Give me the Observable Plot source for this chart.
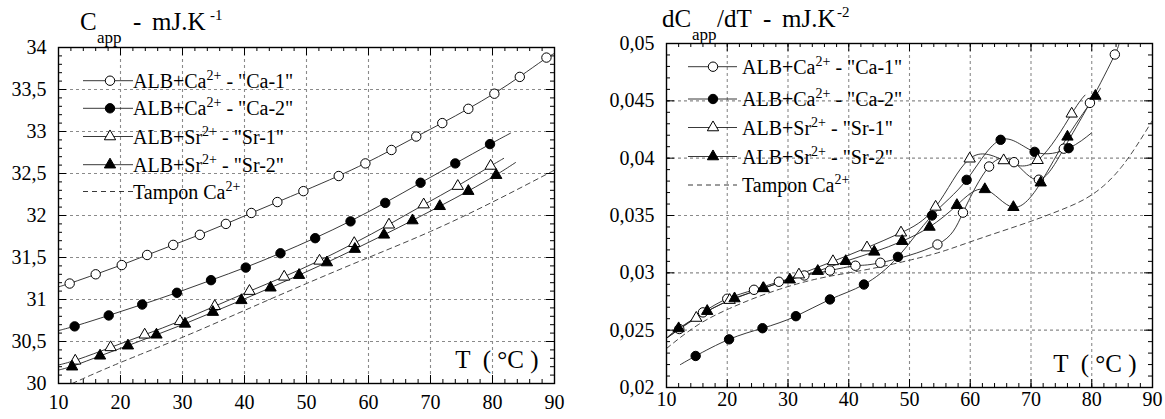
<!DOCTYPE html>
<html><head><meta charset="utf-8">
<script src="https://cdn.jsdelivr.net/npm/d3@7"></script>
<script src="https://cdn.jsdelivr.net/npm/@observablehq/plot@0.6"></script>
<style>
body{margin:0;background:#fff;}
#wrap{position:relative;width:1165px;height:419px;overflow:hidden;}
#wrap svg{position:absolute;top:0;overflow:visible;}
#wrap svg text, #wrap svg g{font-family:"Liberation Serif","Times New Roman",serif !important;}
</style></head><body><div id="wrap"></div>
<script>
const FONT = "Liberation Serif, Times New Roman, serif";

// ---------- axes ----------
const xTicks = [10, 20, 30, 40, 50, 60, 70, 80, 90];
const xLabels = ["10", "20", "30", "40", "50", "60", "70", "80", "90"];
const L_yTicks = [30, 30.5, 31, 31.5, 32, 32.5, 33, 33.5, 34];
const L_yLabels = ["30", "30,5", "31", "31,5", "32", "32,5", "33", "33,5", "34"];
const R_yTicks = [0.02, 0.025, 0.03, 0.035, 0.04, 0.045, 0.05];
const R_yLabels = ["0,02", "0,025", "0,03", "0,035", "0,04", "0,045", "0,05"];

// ---------- left panel: C_app (mJ/K) ----------
const L_ca1_x = [11.8, 16.0, 20.2, 24.3, 28.5, 32.8, 37.0, 41.1, 45.3, 49.5, 55.2, 59.5, 63.7, 67.7, 71.9, 76.1, 80.3, 84.4, 88.7];
const L_ca1_y = [31.19, 31.30, 31.41, 31.53, 31.65, 31.77, 31.90, 32.03, 32.16, 32.29, 32.47, 32.62, 32.78, 32.94, 33.10, 33.27, 33.45, 33.65, 33.88];
const L_ca1_ends = [[10, 31.15], [90, 33.93]];
const L_ca2_x = [12.6, 18.1, 23.5, 29.1, 34.6, 40.2, 45.8, 51.4, 57.1, 62.7, 68.4, 74.0, 79.6];
const L_ca2_y = [30.68, 30.81, 30.94, 31.08, 31.23, 31.38, 31.55, 31.73, 31.93, 32.15, 32.39, 32.62, 32.85];
const L_ca2_ends = [[10, 30.63], [82.9, 32.98]];
const L_sr1_x = [12.7, 18.4, 23.9, 29.6, 35.2, 40.8, 46.4, 52.1, 57.7, 63.3, 68.9, 74.4, 79.7];
const L_sr1_y = [30.27, 30.43, 30.58, 30.74, 30.92, 31.10, 31.27, 31.46, 31.67, 31.89, 32.13, 32.35, 32.59];
const L_sr1_ends = [[10, 30.22], [81.8, 32.68]];
const L_sr2_x = [12.2, 16.7, 21.2, 25.8, 30.4, 34.9, 39.5, 44.2, 48.8, 53.3, 57.8, 62.5, 67.1, 71.5, 76.1, 80.6];
const L_sr2_y = [30.20, 30.33, 30.45, 30.58, 30.71, 30.85, 30.99, 31.14, 31.29, 31.44, 31.60, 31.77, 31.94, 32.11, 32.29, 32.48];
const L_sr2_ends = [[10, 30.16], [83.7, 32.63]];
const L_tampon_x = [12.2, 20, 30, 40, 50, 60, 70, 80, 90];
const L_tampon_y = [30.0, 30.25, 30.55, 30.87, 31.19, 31.50, 31.81, 32.16, 32.54];

// ---------- right panel: dC_app/dT (mJ/K^2) ----------
const R_ca1_x = [12.1, 16.0, 20.0, 24.4, 28.5, 32.7, 36.9, 41.1, 45.2, 54.6, 58.8, 63.1, 67.2, 71.3, 75.4, 79.7, 83.8];
const R_ca1_y = [0.0251, 0.02655, 0.02774, 0.02852, 0.02922, 0.02977, 0.0302, 0.03062, 0.03088, 0.03247, 0.03525, 0.03927, 0.03965, 0.03812, 0.04083, 0.04482, 0.04904];
const R_ca1_ends = [[10, 0.0243], [84.4, 0.0500]];
const R_ca2_x = [14.8, 20.3, 25.8, 31.3, 36.9, 42.5, 48.1, 53.7, 59.4, 65.0, 70.6, 76.2];
const R_ca2_y = [0.02275, 0.0242, 0.02517, 0.02622, 0.02768, 0.02898, 0.03139, 0.0350, 0.03811, 0.0416, 0.04055, 0.04087];
const R_ca2_ends = [[12.3, 0.0220], [80.0, 0.04222]];
const R_sr1_x = [14.9, 20.4, 26.0, 31.8, 37.4, 43.0, 48.6, 54.3, 59.9, 65.5, 71.1, 76.7];
const R_sr1_y = [0.02606, 0.02762, 0.02865, 0.02984, 0.0310, 0.0322, 0.0335, 0.03575, 0.03995, 0.0398, 0.03982, 0.04387];
const R_sr1_ends = [[10, 0.0243], [78.9, 0.0455]];
const R_sr2_x = [12.0, 16.7, 21.2, 25.9, 30.3, 34.9, 39.5, 44.2, 48.8, 53.3, 57.8, 62.4, 67.1, 71.6, 76.0, 80.6];
const R_sr2_y = [0.02515, 0.02666, 0.02776, 0.02865, 0.0294, 0.03015, 0.03101, 0.03183, 0.03276, 0.0340, 0.0359, 0.03728, 0.03572, 0.03786, 0.04186, 0.04542];
const R_sr2_ends = [[10, 0.0243], [81.4, 0.0461]];
const R_tampon_x = [10, 15, 20, 25, 30, 35, 40, 45, 50, 55, 60, 65, 70, 75, 80, 85, 90];
const R_tampon_y = [0.0234, 0.0254, 0.0268, 0.0279, 0.0288, 0.0295, 0.0300, 0.0305, 0.0311, 0.0318, 0.0327, 0.0336, 0.0345, 0.0355, 0.0368, 0.0393, 0.0433];

// ---------- legend / titles ----------
const legendParts = [
  ["ALB+Ca", "2+", ' - "Ca-1"'],
  ["ALB+Ca", "2+", ' - "Ca-2"'],
  ["ALB+Sr", "2+", ' - "Sr-1"'],
  ["ALB+Sr", "2+", ' - "Sr-2"'],
  ["Tampon Ca", "2+", ""]
];
const legendStyles = [
  {symbol: "circle", fill: "white"},
  {symbol: "circle", fill: "black"},
  {symbol: "triangle", fill: "white"},
  {symbol: "triangle", fill: "black"},
  {symbol: null}
];
const xAxisTitle = "T  ( °C )";

const pts = (xs, ys) => xs.map((x, i) => ({x, y: ys[i]}));
const withEnds = (xs, ys, ends) => [{x: ends[0][0], y: ends[0][1]}, ...pts(xs, ys), {x: ends[1][0], y: ends[1][1]}];
const R_CIRCLE = 4.7, R_TRI = 4.2;

function panel(cfg) {
  const H = 419;
  const ph = H - cfg.mt - cfg.mb, pw = cfg.width - cfg.ml - cfg.mr;
  const minorX = d3.range(10, 90.001, 2);
  const fmtX = d => xLabels[xTicks.indexOf(d)];
  const fmtY = d => cfg.yLabels[cfg.yTicks.indexOf(d)];
  const grid = {stroke: "#8a8a8a", strokeWidth: 1.1, strokeDasharray: "3,3"};
  const lineStyle = {x: "x", y: "y", stroke: "#222", strokeWidth: 0.9, curve: cfg.curve, clip: true};
  const marks = [
    Plot.ruleX(xTicks.slice(1, -1), grid),
    Plot.ruleY(cfg.yTicks.slice(1, -1), grid),
    Plot.tickX(minorX, {x: d => d, insetTop: ph - 4, stroke: "black"}),
    Plot.tickX(minorX, {x: d => d, insetBottom: ph - 4, stroke: "black"}),
    Plot.tickX(xTicks, {x: d => d, insetTop: ph - 8, stroke: "black"}),
    Plot.tickX(xTicks, {x: d => d, insetBottom: ph - 8, stroke: "black"}),
    Plot.tickY(cfg.minorY, {y: d => d, insetRight: pw - 4, stroke: "black"}),
    Plot.tickY(cfg.minorY, {y: d => d, insetLeft: pw - 4, stroke: "black"}),
    Plot.tickY(cfg.yTicks, {y: d => d, insetRight: pw - 8, stroke: "black"}),
    Plot.tickY(cfg.yTicks, {y: d => d, insetLeft: pw - 8, stroke: "black"}),
    Plot.line(cfg.tampon, {x: "x", y: "y", stroke: "#333", strokeWidth: 0.9, strokeDasharray: "5,4", curve: "natural", clip: true})
  ];
  cfg.series.forEach(s => marks.push(Plot.line(s.line, lineStyle)));
  cfg.series.forEach(s => marks.push(Plot.dot(s.dots, {x: "x", y: "y", symbol: s.symbol, r: s.symbol === "circle" ? R_CIRCLE : R_TRI, fill: s.fill, stroke: "black", strokeWidth: 1})));
  marks.push(
    Plot.frame({stroke: "black", strokeWidth: 1.4}),
    Plot.axisX(xTicks, {tickSize: 0, tickPadding: cfg.xPad, tickFormat: fmtX, fontSize: 20, fontFamily: FONT, label: null, fill: "black"}),
    Plot.axisY(cfg.yTicks, {tickSize: 0, tickPadding: 12, tickFormat: fmtY, fontSize: 20, fontFamily: FONT, label: null, fill: "black"}),
    Plot.text([xAxisTitle], {frameAnchor: "bottom-right", text: d => d, textAnchor: "end", lineAnchor: "bottom", dx: -16, dy: -16, fontSize: 25, fontFamily: FONT, fill: "black"})
  );
  const svg = Plot.plot({
    width: cfg.width, height: H,
    marginLeft: cfg.ml, marginRight: cfg.mr, marginTop: cfg.mt, marginBottom: cfg.mb,
    x: {domain: [10, 90]},
    y: {domain: cfg.yDomain},
    style: {fontFamily: FONT, fontSize: "20px", background: "white", color: "black", overflow: "visible"},
    marks
  });
  svg.style.left = cfg.left + "px";
  const sel = d3.select(svg);
  // title
  const tg = sel.append("g").attr("text-anchor", "start").attr("fill", "black");
  cfg.title.forEach(p => tg.append("text").attr("x", p.x).attr("y", p.y).attr("font-size", p.s).text(p.t));
  // legend
  const lg = sel.append("g").attr("text-anchor", "start").attr("font-size", 20).attr("fill", "black");
  const L = cfg.legend;
  legendParts.forEach((parts, i) => {
    const y = L.ys[i];
    const st = legendStyles[i];
    lg.append("line").attr("x1", L.x1).attr("x2", L.x2).attr("y1", y).attr("y2", y)
      .attr("stroke", "#222").attr("stroke-width", 0.9)
      .attr("stroke-dasharray", st.symbol ? null : "5,4");
    if (st.symbol) {
      const r = st.symbol === "circle" ? R_CIRCLE : R_TRI;
      const sym = st.symbol === "circle" ? d3.symbolCircle : d3.symbolTriangle;
      lg.append("path").attr("d", d3.symbol(sym, Math.PI * r * r)())
        .attr("transform", `translate(${L.xm},${y})`)
        .attr("fill", st.fill).attr("stroke", "black").attr("stroke-width", 1);
    }
    const t = lg.append("text").attr("x", L.xt).attr("y", y + 7);
    t.append("tspan").text(parts[0]);
    t.append("tspan").attr("dy", -8).attr("font-size", 14).text(parts[1]);
    if (parts[2]) t.append("tspan").attr("dy", 8).text(parts[2]);
  });
  return svg;
}

const wrap = document.getElementById("wrap");
wrap.appendChild(panel({
  left: 0, width: 582, ml: 58, mr: 28, mt: 47, mb: 36, xPad: 11,
  yTicks: L_yTicks, yLabels: L_yLabels, yDomain: [30, 34],
  minorY: d3.range(30, 34.0001, 0.1),
  curve: "basis",
  tampon: pts(L_tampon_x, L_tampon_y),
  series: [
    {line: withEnds(L_ca1_x, L_ca1_y, L_ca1_ends), dots: pts(L_ca1_x, L_ca1_y), symbol: "circle", fill: "white"},
    {line: withEnds(L_ca2_x, L_ca2_y, L_ca2_ends), dots: pts(L_ca2_x, L_ca2_y), symbol: "circle", fill: "black"},
    {line: withEnds(L_sr1_x, L_sr1_y, L_sr1_ends), dots: pts(L_sr1_x, L_sr1_y), symbol: "triangle", fill: "white"},
    {line: withEnds(L_sr2_x, L_sr2_y, L_sr2_ends), dots: pts(L_sr2_x, L_sr2_y), symbol: "triangle", fill: "black"}
  ],
  title: [
    {t: "C", x: 80, y: 30, s: 25}, {t: "app", x: 97, y: 43, s: 17},
    {t: "-", x: 133, y: 30, s: 25}, {t: "mJ.K", x: 152, y: 30, s: 25}, {t: "-1", x: 210, y: 20, s: 15}
  ],
  legend: {x1: 83, x2: 133, xm: 110, xt: 133, ys: [80.7, 108.3, 136.5, 164.7, 191.5]}
}));
wrap.appendChild(panel({
  left: 582, width: 583, ml: 84, mr: 13, mt: 43, mb: 32, xPad: 4,
  yTicks: R_yTicks, yLabels: R_yLabels, yDomain: [0.02, 0.05],
  minorY: d3.range(0.02, 0.05001, 0.001),
  curve: "natural",
  tampon: pts(R_tampon_x, R_tampon_y),
  series: [
    {line: withEnds(R_ca1_x, R_ca1_y, R_ca1_ends), dots: pts(R_ca1_x, R_ca1_y), symbol: "circle", fill: "white"},
    {line: withEnds(R_ca2_x, R_ca2_y, R_ca2_ends), dots: pts(R_ca2_x, R_ca2_y), symbol: "circle", fill: "black"},
    {line: withEnds(R_sr1_x, R_sr1_y, R_sr1_ends), dots: pts(R_sr1_x, R_sr1_y), symbol: "triangle", fill: "white"},
    {line: withEnds(R_sr2_x, R_sr2_y, R_sr2_ends), dots: pts(R_sr2_x, R_sr2_y), symbol: "triangle", fill: "black"}
  ],
  title: [
    {t: "dC", x: 80, y: 27, s: 25}, {t: "app", x: 110, y: 40, s: 17}, {t: "/dT", x: 135, y: 27, s: 25},
    {t: "-", x: 181, y: 27, s: 25}, {t: "mJ.K", x: 200, y: 27, s: 25}, {t: "-2", x: 255, y: 17, s: 15}
  ],
  legend: {x1: 106, x2: 155, xm: 131, xt: 160, ys: [66.7, 99, 127.5, 156.5, 185]}
}));
</script>
</body></html>
